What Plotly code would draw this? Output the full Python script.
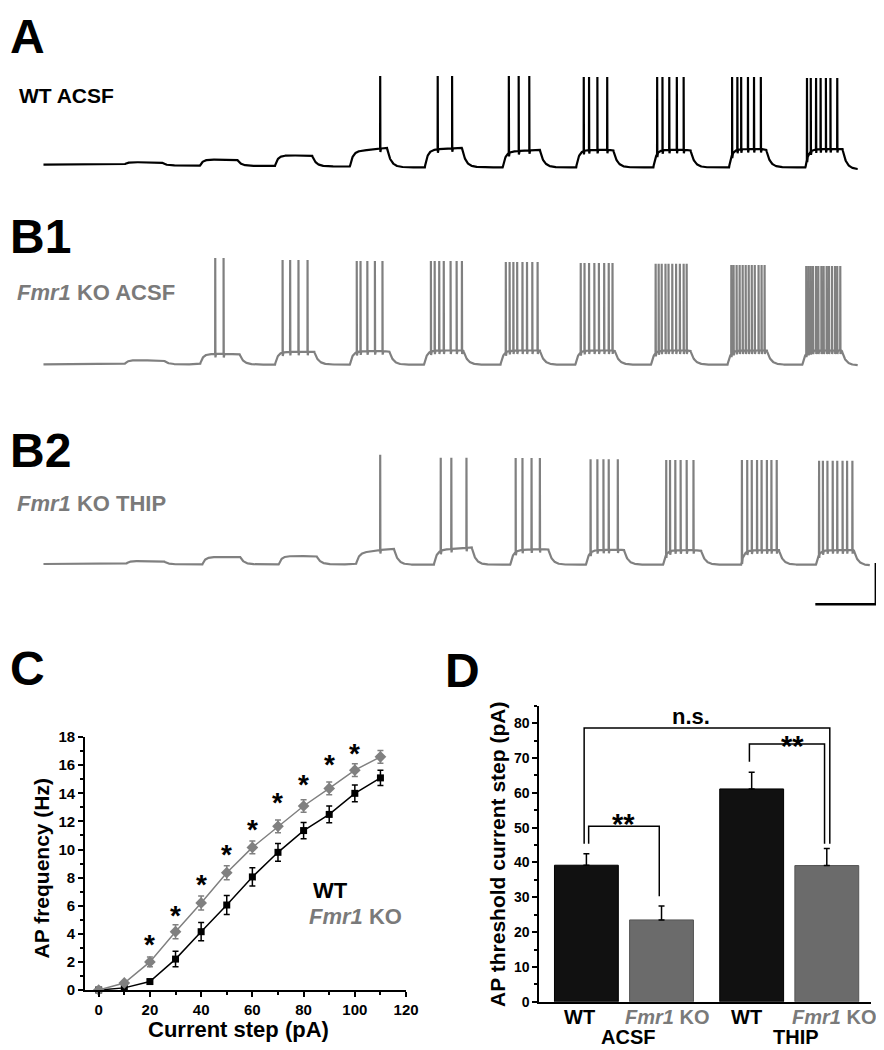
import numpy as np
import plotly.graph_objects as go

W, H = 884, 1050
FONT = "Liberation Sans, Arial, Helvetica, sans-serif"
INK = "#000000"
GREY = "#808080"
GREY_TXT = "#7a7a7a"
BAR_WT = "#111111"
BAR_KO = "#6b6b6b"

# ---------------- Panel A / B1 / B2 : current-clamp traces ----------------
# time in s from trace start, membrane potential in mV
A_onset = [1.07, 2.07, 3.06, 4.05, 5.04, 6.07, 7.04, 8.06, 9.06, 10.07]
A_rest = [-65.0, -65.7, -66.0, -66.4, -67.0, -67.0, -67.0, -67.1, -67.1, -67.1]
A_plat_start = [-63.3, -61.4, -58.4, -55.7, -54.3, -55.7, -54.5, -54.3, -53.8, -53.8]
A_plat_end = [-63.3, -61.4, -58.4, -52.9, -52.9, -54.3, -54.3, -54.3, -53.8, -53.8]
A_spikes = [[], [], [], [4.45], [5.21, 5.40], [6.15, 6.28, 6.42],
            [7.14, 7.21, 7.32, 7.45], [8.11, 8.18, 8.27, 8.37, 8.46],
            [9.10, 9.17, 9.22, 9.31, 9.39, 9.48],
            [10.09, 10.14, 10.21, 10.27, 10.34, 10.40, 10.49]]
A_peak = [None, None, None, -0.7, -0.7, -0.7, -1.4, -1.4, -1.4, -2.1]
A_dur = 0.49
A_end = 10.76
A_end_v = -68.5

B1_onset = [1.07, 2.07, 3.06, 4.05, 5.03, 6.04, 7.03, 8.03, 9.04, 10.03]
B1_rest = [-65.0, -65.0, -65.2, -65.2, -65.3, -65.3, -65.3, -65.3, -65.3, -65.3]
B1_plat_start = [-62.1, -57.5, -56.0, -55.5, -55.0, -55.0, -55.0, -55.0, -55.0, -55.0]
B1_plat_end = [-62.1, -57.5, -56.0, -55.5, -55.0, -55.0, -55.0, -55.0, -55.0, -55.0]
B1_spikes = [[], [2.27, 2.38], [3.16, 3.26, 3.37, 3.49],
             [4.14, 4.19, 4.28, 4.38, 4.48],
             [5.12, 5.17, 5.23, 5.29, 5.38, 5.46, 5.53],
             [6.11, 6.16, 6.21, 6.26, 6.33, 6.39, 6.46, 6.53],
             [7.10, 7.15, 7.21, 7.28, 7.34, 7.41, 7.47, 7.52],
             [8.09, 8.13, 8.17, 8.22, 8.26, 8.31, 8.36, 8.41, 8.46, 8.50],
             [9.09, 9.12, 9.16, 9.20, 9.24, 9.28, 9.32, 9.36, 9.40, 9.45, 9.49, 9.53],
             [10.08, 10.11, 10.14, 10.17, 10.21, 10.24, 10.28, 10.31, 10.35, 10.38,
              10.42, 10.46, 10.49, 10.53]]
B1_peak = [None, 12.1, 10.7, 10.0, 10.0, 9.3, 8.6, 7.9, 7.1, 6.4]
B1_dur = 0.52
B1_end = 10.76
B1_end_v = -65.8

B2_onset = [1.09, 2.10, 3.11, 4.13, 5.16, 6.17, 7.17, 8.19, 9.22, 10.21]
B2_rest = [-65.0, -65.3, -65.3, -65.3, -65.5, -65.5, -65.5, -65.5, -65.5, -65.5]
B2_plat_start = [-62.9, -60.0, -59.3, -57.1, -55.0, -55.0, -55.0, -55.0, -55.0, -55.0]
B2_plat_end = [-62.9, -60.0, -59.3, -53.6, -53.0, -54.0, -54.5, -55.0, -55.0, -55.0]
B2_spikes = [[], [], [], [4.45], [5.25, 5.39, 5.59], [6.24, 6.33, 6.45, 6.56],
             [7.23, 7.32, 7.40, 7.47, 7.59], [8.23, 8.28, 8.35, 8.42, 8.50, 8.59],
             [9.23, 9.30, 9.36, 9.43, 9.49, 9.56, 9.62, 9.69],
             [10.25, 10.30, 10.36, 10.43, 10.49, 10.56, 10.62, 10.69]]
B2_peak = [None, None, None, 14.3, 12.1, 12.0, 11.0, 10.5, 10.5, 10.0]
B2_dur = 0.50
B2_end = 10.92
B2_end_v = -66.0

SCALE_T = 0.8    # s
SCALE_V = 30.0   # mV
SCALE_CORNER = (11.0, -94.3)

# ---------------- Panel C : AP frequency vs current ----------------
steps_pA = [0, 10, 20, 30, 40, 50, 60, 70, 80, 90, 100, 110]
wt_freq = [0.0, 0.15, 0.6, 2.2, 4.15, 6.05, 8.05, 9.8, 11.35, 12.5, 14.0, 15.1]
wt_sem = [0.0, 0.1, 0.15, 0.55, 0.65, 0.68, 0.65, 0.63, 0.58, 0.6, 0.6, 0.55]
ko_freq = [0.0, 0.5, 2.0, 4.15, 6.2, 8.35, 10.15, 11.65, 13.1, 14.35, 15.65, 16.6]
ko_sem = [0.0, 0.1, 0.35, 0.5, 0.5, 0.5, 0.45, 0.45, 0.45, 0.45, 0.45, 0.45]
star_x = [20, 30, 40, 50, 60, 70, 80, 90, 100]
star_y = [3.7, 5.8, 8.0, 10.1, 11.9, 13.8, 15.1, 16.5, 17.3]
c_xticks = [0, 20, 40, 60, 80, 100, 120]
c_yticks = [0, 2, 4, 6, 8, 10, 12, 14, 16, 18]

# ---------------- Panel D : AP threshold ----------------
genotype = ["WT", "<i>Fmr1</i> KO", "WT", "<i>Fmr1</i> KO"]
condition = ["ACSF", "THIP"]
bar_pos = [1.0, 2.0, 3.2, 4.2]
thr_mean = [39.2, 23.5, 61.1, 39.1]
thr_sem = [3.3, 4.0, 4.8, 4.9]
d_yticks = [0, 10, 20, 30, 40, 50, 60, 70, 80]
sig_pairs = [(0, 3), (0, 1), (2, 3)]
sig_top = [78.6, 50.4, 74.0]
sig_left_end = [45.4, 45.4, 68.9]
sig_right_end = [45.4, 30.3, 45.4]
sig_text = ["n.s.", "**", "**"]
sig_text_pos = [(2.39, 81.6), (1.50, 53.1), (3.74, 75.4)]

# ---------------- helpers ----------------
PX_PER_S = 76.8
PX_PER_MV = 1.4
V0 = -65.0
T0_PX = 36


def xdom(l, r):
    return [l / W, r / W]


def ydom(top, bot):
    return [1 - bot / H, 1 - top / H]


def px(x):
    return x / W


def py(y):
    return 1 - y / H


def step_waveform(t, onset, dur, rest, p0, p1, v_end, tau_r=0.035, tau_d=0.05):
    t = np.asarray(t, dtype=float)
    n = len(onset)
    v = np.full_like(t, rest[0])
    for i in range(n):
        on, off = onset[i], onset[i] + dur
        nxt = onset[i + 1] if i + 1 < n else np.inf
        m_in = (t >= on) & (t < off)
        frac = (t[m_in] - on) / dur
        p = p0[i] + (p1[i] - p0[i]) * frac
        v[m_in] = rest[i] + (p - rest[i]) * (1 - np.exp(-(t[m_in] - on) / tau_r))
        v_off = rest[i] + (p1[i] - rest[i]) * (1 - np.exp(-dur / tau_r))
        target = rest[i + 1] if i + 1 < n else v_end
        m_out = (t >= off) & (t < nxt)
        v[m_out] = target + (v_off - target) * np.exp(-(t[m_out] - off) / tau_d)
    return v


def membrane_trace(onset, dur, rest, p0, p1, spikes, peaks, t_end, v_end):
    args = (onset, dur, rest, p0, p1, v_end)
    grid = np.arange(0.0, t_end + 1e-9, 0.004)
    ts, pk = [], []
    for s_list, p in zip(spikes, peaks):
        for s in s_list:
            ts.append(s)
            pk.append(p)
    ts = np.array(ts)
    pk = np.array(pk, dtype=float)
    pre = ts - 0.0015
    post = ts + 0.0025
    t = np.concatenate([grid, pre, ts, post])
    v = np.concatenate([step_waveform(grid, *args), step_waveform(pre, *args), pk,
                        step_waveform(post, *args) - 2.5])
    order = np.argsort(t, kind="stable")
    return t[order], v[order]


fig = go.Figure()

panels = [
    ("x", "y", A_onset, A_dur, A_rest, A_plat_start, A_plat_end, A_spikes, A_peak, A_end, A_end_v, INK),
    ("x2", "y2", B1_onset, B1_dur, B1_rest, B1_plat_start, B1_plat_end, B1_spikes, B1_peak, B1_end, B1_end_v, GREY),
    ("x3", "y3", B2_onset, B2_dur, B2_rest, B2_plat_start, B2_plat_end, B2_spikes, B2_peak, B2_end, B2_end_v, GREY),
]
for xa, ya, on, du, re, p0, p1, sp, pk, te, ve, col in panels:
    t, v = membrane_trace(on, du, re, p0, p1, sp, pk, te, ve)
    fig.add_trace(go.Scatter(x=t, y=v, mode="lines", line=dict(color=col, width=2.2),
                             xaxis=xa, yaxis=ya, showlegend=False, hoverinfo="skip"))

# scale bar
cx, cy = SCALE_CORNER
fig.add_trace(go.Scatter(x=[cx - SCALE_T, cx, cx], y=[cy, cy, cy + SCALE_V], mode="lines",
                         line=dict(color=INK, width=2.5), xaxis="x3", yaxis="y3",
                         showlegend=False, hoverinfo="skip"))

# Panel C
fig.add_trace(go.Scatter(x=steps_pA, y=wt_freq, mode="lines+markers",
                         line=dict(color=INK, width=1.5),
                         marker=dict(symbol="square", size=7, color=INK),
                         error_y=dict(type="data", array=wt_sem, color=INK, thickness=1.5, width=3),
                         xaxis="x4", yaxis="y4", showlegend=False, cliponaxis=False))
fig.add_trace(go.Scatter(x=steps_pA, y=ko_freq, mode="lines+markers",
                         line=dict(color=GREY, width=1.5),
                         marker=dict(symbol="diamond", size=9, color=GREY),
                         error_y=dict(type="data", array=ko_sem, color=GREY, thickness=1.5, width=3),
                         xaxis="x4", yaxis="y4", showlegend=False, cliponaxis=False))

# Panel D
fig.add_trace(go.Bar(x=bar_pos, y=thr_mean, width=0.85,
                     marker=dict(color=[BAR_WT, BAR_KO, BAR_WT, BAR_KO],
                                 line=dict(color=[INK, "#555555", INK, "#555555"], width=1)),
                     error_y=dict(type="data", array=thr_sem, arrayminus=[0] * 4, symmetric=False,
                                  color=INK, thickness=1.5, width=3),
                     xaxis="x5", yaxis="y5", showlegend=False))

shapes = []
off_l = [-0.03, 0.03, -0.03]
off_r = [0.04, -0.03, -0.03]
for k, (i, j) in enumerate(sig_pairs):
    x0 = bar_pos[i] + off_l[k]
    x1 = bar_pos[j] + off_r[k]
    path = f"M {x0},{sig_left_end[k]} L {x0},{sig_top[k]} L {x1},{sig_top[k]} L {x1},{sig_right_end[k]}"
    shapes.append(dict(type="path", path=path, xref="x5", yref="y5",
                       line=dict(color=INK, width=1.5)))

ann = []


def label(x, y, text, size, color=INK, xanchor="center", yanchor="middle", xref="paper", yref="paper",
          yshift=0, xshift=0, angle=0):
    ann.append(dict(x=x, y=y, xref=xref, yref=yref, text=text, showarrow=False,
                    font=dict(family=FONT, size=size, color=color),
                    xanchor=xanchor, yanchor=yanchor, yshift=yshift, xshift=xshift,
                    textangle=angle))


# panel letters
label(px(0), py(20), "<b>A</b>", 48, xanchor="left")
label(px(0), py(223), "<b>B1</b>", 48, xanchor="left")
label(px(0), py(441), "<b>B2</b>", 48, xanchor="left")
label(px(0), py(662), "<b>C</b>", 48, xanchor="left")
label(px(441), py(664), "<b>D</b>", 48, xanchor="left")

# trace labels
label(px(9), py(79.5), "<b>WT ACSF</b>", 21, xanchor="left")
label(px(7), py(280), "<b><i>Fmr1</i> KO ACSF</b>", 22, color=GREY_TXT, xanchor="left")
label(px(7), py(495), "<b><i>Fmr1</i> KO THIP</b>", 22, color=GREY_TXT, xanchor="left")

# panel C texts
for sx, sy in zip(star_x, star_y):
    label(sx, sy, "<b>*</b>", 28, xref="x4", yref="y4", yshift=-6.5)
label(px(327), py(888), "<b>WT</b>", 22)
label(px(353), py(914), "<b><i>Fmr1</i> KO</b>", 22, color=GREY_TXT)
label(px(35), py(865), "<b>AP frequency (Hz)</b>", 21, angle=-90)
label(px(234), py(1029), "<b>Current step (pA)</b>", 22)

# panel D texts
for k, (tx, ty) in enumerate(sig_text_pos):
    star = sig_text[k] == "**"
    label(tx, ty, f"<b>{sig_text[k]}</b>", 29 if star else 22, xref="x5", yref="y5",
          yshift=-6.8 if star else 1.5)
gshift = [-7, 5, -5, 7]
for k, g in enumerate(genotype):
    label(bar_pos[k], py(1016), f"<b>{g}</b>", 20, color=INK if g == "WT" else GREY_TXT,
          xref="x5", xshift=gshift[k])
group_mid = [(bar_pos[0] + bar_pos[1]) / 2, (bar_pos[2] + bar_pos[3]) / 2]
label(group_mid[0], py(1037), f"<b>{condition[0]}</b>", 20, xref="x5", xshift=4)
label(group_mid[1], py(1037), f"<b>{condition[1]}</b>", 20, xref="x5", xshift=7)
label(px(497), py(851), "<b>AP threshold current step (pA)</b>", 21, angle=-90)

hidden = dict(visible=False, showgrid=False, zeroline=False, fixedrange=True)
tick_font_c = dict(family=FONT, size=15, color=INK, weight="bold")
tick_font_d = dict(family=FONT, size=14, color=INK, weight="bold")
ax_common = dict(showline=True, linecolor=INK, linewidth=1.5, ticks="outside", ticklen=5,
                 tickwidth=1.5, tickcolor=INK, showgrid=False, zeroline=False, mirror=False)


def trace_yrange(top, bot, base):
    return [V0 - (bot - base) / PX_PER_MV, V0 + (base - top) / PX_PER_MV]


xr_trace = [-T0_PX / PX_PER_S, (W - T0_PX) / PX_PER_S]

fig.update_layout(
    width=W, height=H, margin=dict(l=0, r=0, t=0, b=0),
    paper_bgcolor="white", plot_bgcolor="rgba(0,0,0,0)",
    showlegend=False,
    xaxis=dict(domain=[0, 1], range=xr_trace, anchor="y", **hidden),
    yaxis=dict(domain=ydom(0, 175), range=trace_yrange(0, 175, 150), anchor="x", **hidden),
    xaxis2=dict(domain=[0, 1], range=xr_trace, anchor="y2", **hidden),
    yaxis2=dict(domain=ydom(190, 390), range=trace_yrange(190, 390, 353), anchor="x2", **hidden),
    xaxis3=dict(domain=[0, 1], range=xr_trace, anchor="y3", **hidden),
    yaxis3=dict(domain=ydom(400, 610), range=trace_yrange(400, 610, 556), anchor="x3", **hidden),
    xaxis4=dict(domain=xdom(78, 404), range=[-5.4, 120], anchor="y4", tickvals=c_xticks,
                tickfont=tick_font_c, minor=dict(dtick=10, ticks="outside", ticklen=3, tickwidth=1.5,
                                                 tickcolor=INK), **ax_common),
    yaxis4=dict(domain=ydom(732, 989), range=[0, 18], anchor="x4", tickvals=c_yticks,
                tickfont=tick_font_c, minor=dict(dtick=1, ticks="outside", ticklen=3, tickwidth=1.5,
                                                 tickcolor=INK), **ax_common),
    xaxis5=dict(domain=xdom(539, 876), range=[0.37, 4.79], anchor="y5", showline=True, linecolor=INK,
                linewidth=1.5, ticks="", showticklabels=False, showgrid=False, zeroline=False),
    yaxis5=dict(domain=ydom(700, 1001), range=[0, 85], anchor="x5", tickvals=d_yticks,
                tickfont=tick_font_d, minor=dict(dtick=5, ticks="outside", ticklen=3, tickwidth=1.5,
                                                 tickcolor=INK), **ax_common),
    shapes=shapes,
    annotations=ann,
)

fig.write_html("out.html")
